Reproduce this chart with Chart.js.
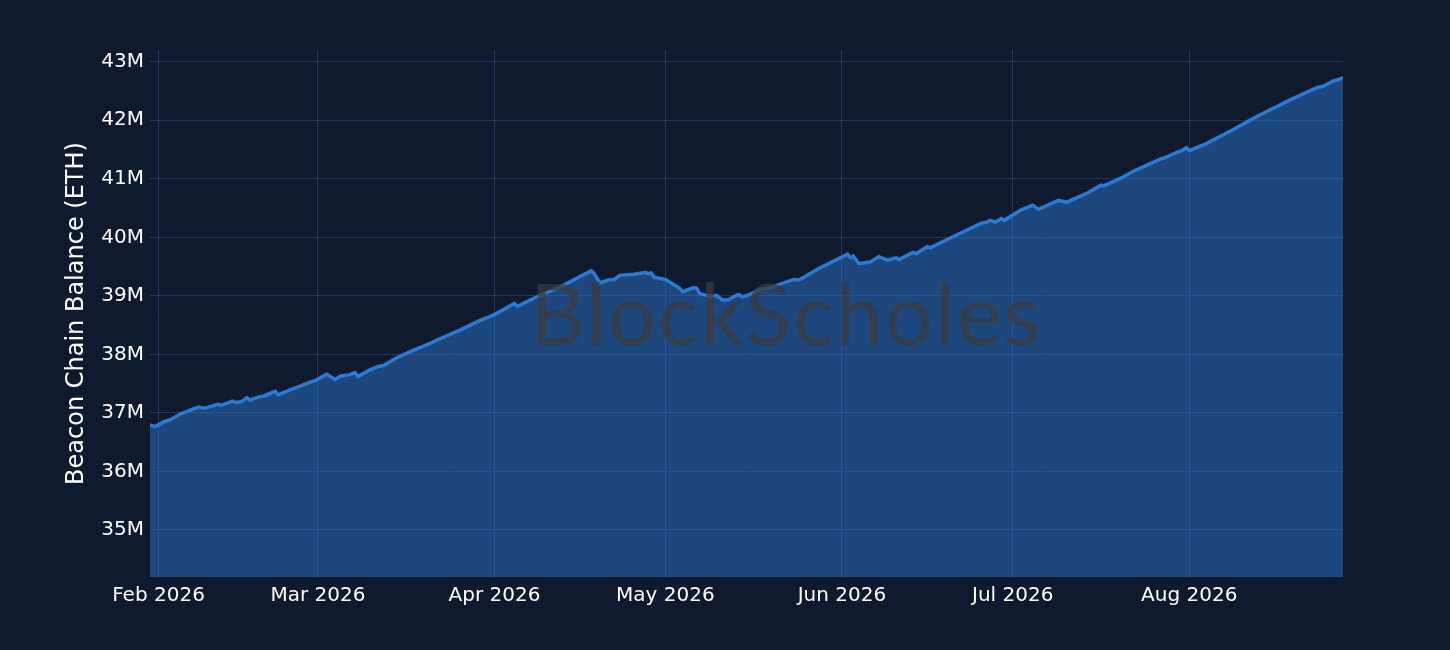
<!DOCTYPE html>
<html>
<head>
<meta charset="utf-8">
<script src="https://cdn.jsdelivr.net/npm/chart.js@4.4.1/dist/chart.umd.min.js"></script>
<style>
  html, body { margin: 0; padding: 0; background: #101a2e; }
  #wrap { width: 1450px; height: 650px; }
</style>
</head>
<body>
<div id="wrap"><canvas id="balance-chart" width="1450" height="650"></canvas></div>
<script>
// timestamps (UTC) of the readings
const dates = [
  '2026-01-30 12:00', '2026-01-31 12:00', '2026-02-02 00:00', '2026-02-03 00:00', '2026-02-05 00:00',
  '2026-02-08 00:00', '2026-02-09 00:00', '2026-02-09 12:00', '2026-02-11 12:00', '2026-02-12 00:00',
  '2026-02-14 00:00', '2026-02-14 12:00', '2026-02-15 12:00', '2026-02-16 12:00', '2026-02-17 00:00',
  '2026-02-18 12:00', '2026-02-19 12:00', '2026-02-21 12:00', '2026-02-22 00:00', '2026-02-24 00:00',
  '2026-02-28 00:00', '2026-02-28 12:00', '2026-03-02 12:00', '2026-03-04 00:00', '2026-03-05 00:00',
  '2026-03-06 12:00', '2026-03-07 12:00', '2026-03-08 00:00', '2026-03-10 00:00', '2026-03-11 12:00',
  '2026-03-12 12:00', '2026-03-15 00:00', '2026-03-18 00:00', '2026-03-20 12:00', '2026-03-22 00:00',
  '2026-03-26 00:00', '2026-03-29 12:00', '2026-04-01 00:00', '2026-04-04 12:00', '2026-04-05 00:00',
  '2026-04-09 00:00', '2026-04-12 12:00', '2026-04-18 00:00', '2026-04-18 12:00', '2026-04-19 12:00',
  '2026-04-21 00:00', '2026-04-22 00:00', '2026-04-23 00:00', '2026-04-25 12:00', '2026-04-27 12:00',
  '2026-04-28 00:00', '2026-04-28 12:00', '2026-04-29 00:00', '2026-05-01 00:00', '2026-05-02 00:00',
  '2026-05-03 12:00', '2026-05-04 00:00', '2026-05-06 00:00', '2026-05-06 12:00', '2026-05-07 00:00',
  '2026-05-09 00:00', '2026-05-10 00:00', '2026-05-11 00:00', '2026-05-12 00:00', '2026-05-13 12:00',
  '2026-05-14 00:00', '2026-05-14 12:00', '2026-05-16 00:00', '2026-05-17 12:00', '2026-05-19 12:00',
  '2026-05-23 12:00', '2026-05-24 12:00', '2026-05-28 00:00', '2026-06-02 00:00', '2026-06-02 12:00',
  '2026-06-03 00:00', '2026-06-04 00:00', '2026-06-06 00:00', '2026-06-07 12:00', '2026-06-09 00:00',
  '2026-06-10 12:00', '2026-06-11 00:00', '2026-06-13 12:00', '2026-06-14 00:00', '2026-06-16 00:00',
  '2026-06-16 12:00', '2026-06-20 12:00', '2026-06-25 12:00', '2026-06-26 12:00', '2026-06-27 00:00',
  '2026-06-28 00:00', '2026-06-29 00:00', '2026-06-29 12:00', '2026-07-02 12:00', '2026-07-04 12:00',
  '2026-07-05 12:00', '2026-07-06 12:00', '2026-07-09 00:00', '2026-07-10 12:00', '2026-07-14 00:00',
  '2026-07-16 12:00', '2026-07-17 00:00', '2026-07-20 00:00', '2026-07-22 00:00', '2026-07-27 00:00',
  '2026-07-27 12:00', '2026-07-30 00:00', '2026-07-30 12:00', '2026-07-31 12:00', '2026-08-01 00:00',
  '2026-08-04 00:00', '2026-08-08 12:00', '2026-08-13 00:00', '2026-08-14 00:00', '2026-08-19 00:00',
  '2026-08-23 12:00', '2026-08-24 12:00', '2026-08-26 12:00', '2026-08-27 00:00', '2026-08-28 00:00'
];

// beacon chain balance, millions of ETH
const balances = [
  36.79, 36.77, 36.85, 36.88, 36.99,
  37.10, 37.08, 37.09, 37.15, 37.13,
  37.20, 37.18, 37.19, 37.26, 37.22,
  37.27, 37.29, 37.37, 37.31, 37.39,
  37.54, 37.55, 37.66, 37.57, 37.63,
  37.65, 37.69, 37.62, 37.73, 37.79,
  37.81, 37.95, 38.08, 38.18, 38.25,
  38.42, 38.58, 38.68, 38.87, 38.82,
  39.01, 39.15, 39.43, 39.38, 39.22,
  39.27, 39.28, 39.35, 39.37, 39.40,
  39.38, 39.39, 39.32, 39.28, 39.22,
  39.13, 39.07, 39.14, 39.13, 39.04,
  38.99, 39.01, 38.93, 38.93, 39.01,
  39.02, 38.98, 39.03, 39.11, 39.14,
  39.28, 39.27, 39.47, 39.71, 39.65,
  39.68, 39.55, 39.58, 39.67, 39.61,
  39.65, 39.62, 39.74, 39.72, 39.84,
  39.82, 40.01, 40.24, 40.26, 40.29,
  40.26, 40.32, 40.29, 40.47, 40.55,
  40.48, 40.52, 40.63, 40.60, 40.75,
  40.89, 40.88, 41.01, 41.12, 41.34,
  41.35, 41.46, 41.47, 41.53, 41.48,
  41.60, 41.83, 42.07, 42.12, 42.36,
  42.56, 42.58, 42.68, 42.69, 42.73
];

const monthTicks = ['2026-02-01 00:00', '2026-03-01 00:00', '2026-04-01 00:00', '2026-05-01 00:00',
                    '2026-06-01 00:00', '2026-07-01 00:00', '2026-08-01 00:00'];
const monthLabels = ['Feb 2026', 'Mar 2026', 'Apr 2026', 'May 2026', 'Jun 2026', 'Jul 2026', 'Aug 2026'];
const yTicks = [35, 36, 37, 38, 39, 40, 41, 42, 43];
const yRange = [34.197, 43.2];

(function(){
  const base = Date.UTC(2026, 1, 1);
  // days since 1 Feb 2026
  function dayOf(s) {
    const ms = new Date(s.replace(' ', 'T') + ':00Z').getTime();
    return (ms - base) / 864e5;
  }

  const points = dates.map((d, i) => ({ x: dayOf(d), y: balances[i] }));
  const tickDays = monthTicks.map(dayOf);

  const watermark = {
    id: 'watermark',
    afterDatasetsDraw(chart) {
      const ctx = chart.ctx;
      ctx.save();
      ctx.font = '400 86px Lato';
      ctx.fillStyle = 'rgba(58, 58, 62, 0.72)';
      ctx.textAlign = 'center';
      ctx.textBaseline = 'alphabetic';
      if ('letterSpacing' in ctx) ctx.letterSpacing = '2px';
      ctx.fillText('BlockScholes', 786, 345, 512);
      ctx.restore();
    }
  };

  const tickFont = { family: 'DejaVu Sans', size: 20 };
  const gridColor = 'rgba(60, 90, 160, 0.43)';

  new Chart(document.getElementById('balance-chart').getContext('2d'), {
    type: 'line',
    data: {
      datasets: [{
        label: 'Beacon Chain Balance',
        data: points,
        borderColor: '#2b7bd6',
        backgroundColor: 'rgba(44, 116, 206, 0.5)',
        borderWidth: 3.5,
        pointRadius: 0,
        tension: 0,
        fill: 'start'
      }]
    },
    options: {
      responsive: false,
      animation: false,
      layout: { padding: { top: 50, right: 107, bottom: 0, left: 0 } },
      plugins: {
        legend: { display: false },
        tooltip: { enabled: false }
      },
      scales: {
        x: {
          type: 'linear',
          min: dayOf(dates[0]),
          max: dayOf(dates[dates.length - 1]),
          border: { display: false },
          grid: { color: gridColor, drawTicks: false, lineWidth: 1 },
          afterBuildTicks: axis => { axis.ticks = tickDays.map(v => ({ value: v })); },
          afterFit: axis => { axis.height = 73; },
          ticks: {
            autoSkip: false,
            maxRotation: 0,
            padding: 7,
            color: '#ffffff',
            font: tickFont,
            callback: (v, i) => monthLabels[i]
          }
        },
        y: {
          type: 'linear',
          min: yRange[0],
          max: yRange[1],
          border: { display: false },
          grid: { color: gridColor, drawTicks: false, lineWidth: 1 },
          afterBuildTicks: axis => { axis.ticks = yTicks.map(v => ({ value: v })); },
          afterFit: axis => { axis.width = 150; },
          ticks: {
            padding: 6,
            color: '#ffffff',
            font: tickFont,
            callback: v => v + 'M'
          },
          title: {
            display: true,
            text: 'Beacon Chain Balance (ETH)',
            color: '#ffffff',
            font: { family: 'DejaVu Sans', size: 24 },
            padding: { top: 62, bottom: 0 }
          }
        }
      }
    },
    plugins: [watermark]
  });
})();
</script>
</body>
</html>
